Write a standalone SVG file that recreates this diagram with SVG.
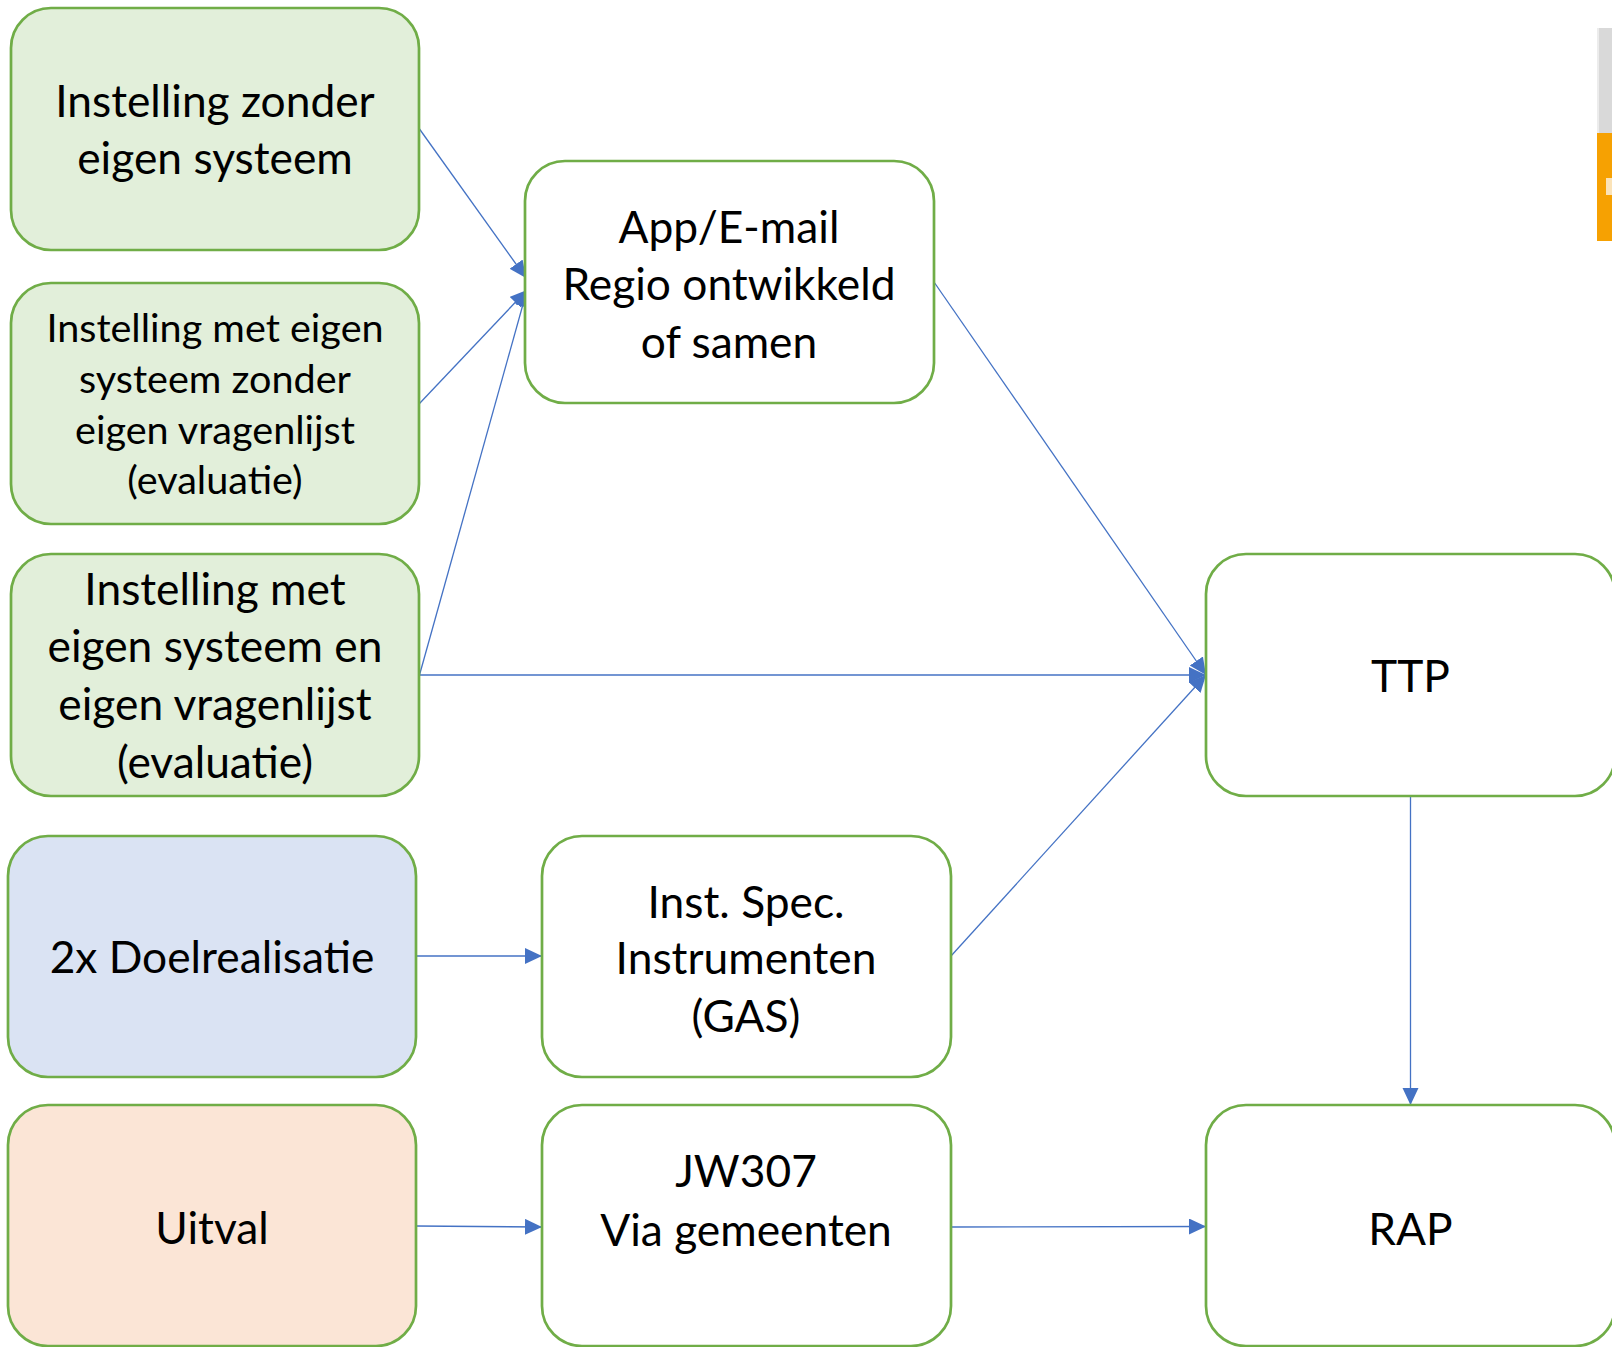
<svg xmlns="http://www.w3.org/2000/svg" width="1612" height="1347" viewBox="0 0 1612 1347">
<defs>
<style>
.box{stroke:#70ad47;stroke-width:2.7}
.g{fill:#e2efda}.b{fill:#dae3f3}.o{fill:#fbe5d6}.w{fill:#ffffff}
.t{font-family:Lato,"Open Sans","Liberation Sans",sans-serif;font-size:44.3px;fill:#000;text-anchor:middle}
.s{font-size:39.6px}
.c{stroke:#4472c4;stroke-width:1.3;fill:none;marker-end:url(#ah)}
</style>
<marker id="ah" markerUnits="userSpaceOnUse" markerWidth="18" markerHeight="17" refX="17" refY="8" orient="auto">
<path d="M0,0 L17,8 L0,16 Z" fill="#4472c4"/>
</marker>
</defs>
<rect width="1612" height="1347" fill="#ffffff"/>
<g id="corner-fragment">
<rect x="1597" y="28" width="15" height="105" fill="#d9d9d9"/>
<rect x="1597" y="28" width="2" height="105" fill="#ececec"/>
<rect x="1597" y="133" width="15" height="108" fill="#f6a102"/>
<rect x="1606" y="178" width="6" height="17" fill="#fbe3b8"/>
</g>
<g id="connectors">
<line class="c" x1="419.5" y1="129" x2="526" y2="278"/>
<line class="c" x1="419.5" y1="403.5" x2="527" y2="290"/>
<line class="c" x1="419.5" y1="675" x2="527" y2="290"/>
<line class="c" x1="934" y1="282" x2="1206" y2="675"/>
<line class="c" x1="419.5" y1="675" x2="1206" y2="675"/>
<line class="c" x1="951" y1="956" x2="1206" y2="675"/>
<line class="c" x1="1410.5" y1="796" x2="1410.5" y2="1105"/>
<line class="c" x1="416" y1="956" x2="542" y2="956"/>
<line class="c" x1="416" y1="1226" x2="542" y2="1227"/>
<line class="c" x1="951" y1="1227" x2="1206" y2="1226.5"/>
</g>
<g id="n1"><rect class="box g" x="11" y="8" width="408" height="242" rx="40"/>
<text class="t" x="215" y="116.5">Instelling zonder</text><text class="t" x="215" y="173.5">eigen systeem</text></g>
<g id="n2"><rect class="box g" x="11" y="283" width="408" height="241" rx="40"/>
<text class="t s" x="215" y="342">Instelling met eigen</text><text class="t s" x="215" y="392.5">systeem zonder</text><text class="t s" x="215" y="443.5">eigen vragenlijst</text><text class="t s" x="215" y="494">(evaluatie)</text></g>
<g id="n3"><rect class="box g" x="11" y="554" width="408" height="242" rx="40"/>
<text class="t" x="215" y="604.5">Instelling met</text><text class="t" x="215" y="662">eigen systeem en</text><text class="t" x="215" y="720">eigen vragenlijst</text><text class="t" x="215" y="777.5">(evaluatie)</text></g>
<g id="n4"><rect class="box b" x="8" y="836" width="408" height="241" rx="40"/>
<text class="t" x="212" y="973">2x Doelrealisatie</text></g>
<g id="n5"><rect class="box o" x="8" y="1105" width="408" height="241" rx="40"/>
<text class="t" x="212" y="1244">Uitval</text></g>
<g id="app"><rect class="box w" x="525" y="161" width="409" height="242" rx="40"/>
<text class="t" x="729" y="243">App/E-mail</text><text class="t" x="729" y="300">Regio ontwikkeld</text><text class="t" x="729" y="358">of samen</text></g>
<g id="inst"><rect class="box w" x="542" y="836" width="409" height="241" rx="40"/>
<text class="t" x="746" y="918">Inst. Spec.</text><text class="t" x="746" y="974">Instrumenten</text><text class="t" x="746" y="1032">(GAS)</text></g>
<g id="jw"><rect class="box w" x="542" y="1105" width="409" height="241" rx="40"/>
<text class="t" x="746" y="1187">JW307</text><text class="t" x="746" y="1245.5">Via gemeenten</text></g>
<g id="ttp"><rect class="box w" x="1206" y="554" width="409" height="242" rx="40"/>
<text class="t" x="1410.5" y="692">TTP</text></g>
<g id="rap"><rect class="box w" x="1206" y="1105" width="409" height="241" rx="40"/>
<text class="t" x="1410.5" y="1244.5">RAP</text></g>
</svg>
